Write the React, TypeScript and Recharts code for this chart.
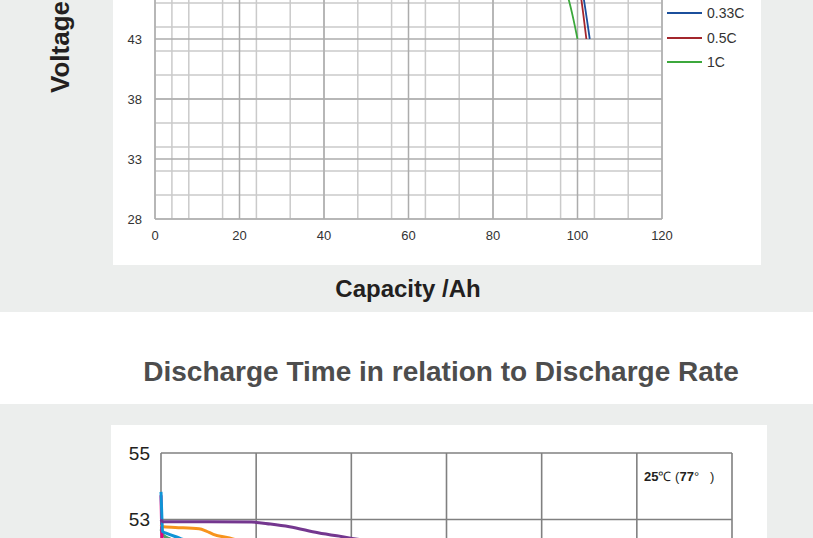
import { LineChart, Line, XAxis, YAxis, CartesianGrid, ReferenceLine } from 'recharts';

// ---- charge/discharge at 25C : capacity (Ah) vs voltage (V) ----
const cap033 = [0, 1, 5, 20, 40, 60, 80, 90, 96, 99, 100.8, 101.5, 102.2, 102.9];
const volt033 = [54.2, 53.4, 53.2, 53.0, 52.8, 52.6, 52.3, 52.0, 51.2, 49.6, 47.6, 46.3, 44.7, 43.0];
const cap05 = [0, 1, 5, 20, 40, 60, 80, 90, 95, 98.5, 100.2, 100.9, 101.5, 102.1];
const volt05 = [53.8, 53.0, 52.8, 52.6, 52.4, 52.2, 51.9, 51.5, 50.8, 49.3, 47.5, 46.3, 44.7, 43.0];
const cap1 = [0, 1, 5, 20, 40, 60, 80, 88, 93, 96.3, 97.9, 99.0, 100.0];
const volt1 = [53.2, 52.2, 52.0, 51.8, 51.6, 51.3, 50.9, 50.3, 49.2, 47.7, 46.3, 44.7, 43.0];

const capTicks = [0, 20, 40, 60, 80, 100, 120];
const voltTicks = [28, 33, 38, 43, 48, 53, 58];
const capGrid = Array.from({ length: 31 }, (_, i) => i * 4);
const voltGrid = Array.from({ length: 31 }, (_, i) => 28 + i);

// ---- discharge time vs rate : time (h) vs voltage (V) ----
const timeGreen = [0, 0.05, 0.2, 0.5, 0.9, 1.0, 1.1];
const voltGreen = [52.7, 52.52, 52.4, 52.1, 51.5, 49, 46];
const timePink = [0, 0.01, 0.02, 0.05, 0.2, 0.35, 0.4];
const voltPink = [53.73, 53.0, 52.5, 52.2, 51.6, 49, 46];
const timeOrange = [0, 0.04, 0.3, 0.8, 0.95, 1.1, 1.44, 2, 3, 4, 4.4, 4.6];
const voltOrange = [52.85, 52.78, 52.76, 52.72, 52.65, 52.55, 52.44, 52.2, 51.8, 51.2, 49, 46];
const timeCyan = [0, 0.02, 0.03, 0.12, 0.39, 0.8, 1.5, 2.0, 2.2, 2.3];
const voltCyan = [53.83, 53.0, 52.64, 52.58, 52.44, 52.2, 51.8, 51.2, 49, 46];
const timePurple = [0, 0.03, 1.0, 1.9, 2.3, 2.7, 3.3, 3.9, 5, 7, 8.5, 9.2, 9.5];
const voltPurple = [53.0, 52.93, 52.93, 52.92, 52.86, 52.78, 52.6, 52.46, 52.2, 51.9, 51.4, 49, 46];

const timeTicks = [0, 2, 4, 6, 8, 10, 12];
const rateVoltTicks = [41, 43, 45, 47, 49, 51, 53, 55];

const FONT = 'Arial, "Liberation Sans", sans-serif';

const pts = (xs: number[], ys: number[]) => xs.map((x, i) => ({ x, y: ys[i] }));

const legendItems = [
  { name: '0.33C', color: '#1b4f9c' },
  { name: '0.5C', color: '#a3262c' },
  { name: '1C', color: '#3ca83c' },
];

export default function App() {
  return (
    <div
      style={{
        position: 'absolute',
        left: 0,
        top: 0,
        width: 813,
        height: 538,
        overflow: 'hidden',
        background: '#eceeed',
        fontFamily: FONT,
      }}
    >
      {/* capacity chart panel (top part is cut off) */}
      <div style={{ position: 'absolute', left: 113, top: -170, width: 648, height: 435, background: '#fff' }}>
        <LineChart width={648} height={435} margin={{ top: 29, right: 99, bottom: 16, left: 0 }}>
          <CartesianGrid stroke="#cacaca" strokeWidth={1.5} horizontalValues={voltGrid} verticalValues={capGrid} />
          <CartesianGrid stroke="#acacac" strokeWidth={1.5} horizontalValues={voltTicks} verticalValues={capTicks} />
          <XAxis
            type="number"
            dataKey="x"
            domain={[0, 120]}
            ticks={capTicks}
            height={30}
            axisLine={false}
            tickLine={false}
            tickSize={0}
            tickMargin={12}
            tick={{ fontSize: 13, fill: '#333', fontFamily: FONT }}
          />
          <YAxis
            type="number"
            domain={[28, 58]}
            ticks={voltTicks}
            width={42}
            axisLine={false}
            tickLine={false}
            tickSize={0}
            tickMargin={13}
            tick={{ fontSize: 13, fill: '#333', fontFamily: FONT }}
          />
          <Line data={pts(cap1, volt1)} dataKey="y" type="monotone" stroke="#3ca83c" strokeWidth={1.8} dot={false} isAnimationActive={false} />
          <Line data={pts(cap05, volt05)} dataKey="y" type="monotone" stroke="#a3262c" strokeWidth={1.8} dot={false} isAnimationActive={false} />
          <Line data={pts(cap033, volt033)} dataKey="y" type="monotone" stroke="#1b4f9c" strokeWidth={1.8} dot={false} isAnimationActive={false} />
        </LineChart>
        {legendItems.map((item, i) => (
          <div key={item.name} style={{ position: 'absolute', left: 554, top: 170 + 5 + i * 24.5, display: 'flex', alignItems: 'center', height: 16 }}>
            <div style={{ width: 35, height: 2, background: item.color }} />
            <span style={{ marginLeft: 5, fontSize: 14, color: '#333' }}>{item.name}</span>
          </div>
        ))}
      </div>

      <div
        style={{
          position: 'absolute',
          left: 47.3,
          top: 93,
          transformOrigin: 'left top',
          transform: 'rotate(-90deg)',
          fontSize: 26,
          lineHeight: '26px',
          fontWeight: 'bold',
          color: '#231f20',
          whiteSpace: 'nowrap',
        }}
      >
        Voltage /V
      </div>

      <div
        style={{
          position: 'absolute',
          left: 258,
          width: 300,
          top: 277,
          textAlign: 'center',
          fontSize: 24,
          lineHeight: '24px',
          fontWeight: 'bold',
          color: '#231f20',
        }}
      >
        Capacity /Ah
      </div>

      {/* title band */}
      <div style={{ position: 'absolute', left: 0, top: 312, width: 813, height: 92, background: '#fff' }} />
      <div
        style={{
          position: 'absolute',
          left: 141,
          width: 600,
          top: 358,
          textAlign: 'center',
          fontSize: 28,
          lineHeight: '28px',
          fontWeight: 'bold',
          color: '#4d4d4d',
          whiteSpace: 'nowrap',
        }}
      >
        Discharge Time in relation to Discharge Rate
      </div>

      {/* discharge-rate chart panel (bottom part is cut off) */}
      <div style={{ position: 'absolute', left: 111, top: 425, width: 656, height: 560, background: '#fff' }}>
        <LineChart width={656} height={560} margin={{ top: 28, right: 35, bottom: 37, left: 0 }}>
          <CartesianGrid stroke="#808080" strokeWidth={1.6} vertical={false} horizontalValues={rateVoltTicks} />
          {timeTicks.map((t) => (
            <ReferenceLine key={t} x={t} stroke="#808080" strokeWidth={1.6} />
          ))}
          <XAxis
            type="number"
            dataKey="x"
            domain={[0, 12]}
            ticks={timeTicks}
            height={30}
            axisLine={false}
            tickLine={false}
            tick={{ fontSize: 18, fill: '#231f20', fontFamily: FONT }}
          />
          <YAxis
            type="number"
            domain={[41, 55]}
            ticks={rateVoltTicks}
            width={50}
            axisLine={false}
            tickLine={false}
            tickSize={0}
            tickMargin={11}
            tick={{ fontSize: 19, fill: '#231f20', fontFamily: FONT }}
          />
          <Line data={pts(timeGreen, voltGreen)} dataKey="y" type="monotone" stroke="#4fa36a" strokeWidth={3} dot={false} isAnimationActive={false} />
          <Line data={pts(timePink, voltPink)} dataKey="y" type="monotone" stroke="#e4007f" strokeWidth={3} dot={false} isAnimationActive={false} />
          <Line data={pts(timeOrange, voltOrange)} dataKey="y" type="monotone" stroke="#f7941d" strokeWidth={3} dot={false} isAnimationActive={false} />
          <Line data={pts(timeCyan, voltCyan)} dataKey="y" type="monotone" stroke="#0f94d6" strokeWidth={3} dot={false} isAnimationActive={false} />
          <Line data={pts(timePurple, voltPurple)} dataKey="y" type="monotone" stroke="#74378f" strokeWidth={3} dot={false} isAnimationActive={false} />
        </LineChart>
        <div style={{ position: 'absolute', left: 533, top: 45, fontSize: 13, lineHeight: '13px', color: '#231f20', whiteSpace: 'pre' }}>
          <b>25</b>℃ (<b>77</b>°   )
        </div>
      </div>
    </div>
  );
}
